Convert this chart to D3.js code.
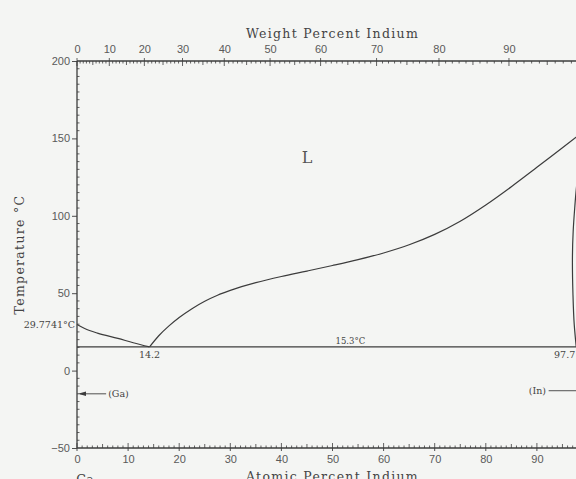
<!DOCTYPE html>
<html>
<head>
<meta charset="utf-8">
<script src="https://cdn.jsdelivr.net/npm/d3@7"></script>
<style>
  html, body { margin: 0; padding: 0; background: #f4f5f3; overflow: hidden; }
  svg { display: block; }
</style>
</head>
<body>
<svg id="chart" width="576" height="479"></svg>
<script>
// Ga–In phase diagram (temperature vs. composition)
const atomicTicks = [0, 10, 20, 30, 40, 50, 60, 70, 80, 90];
const weightTicks = [0, 10, 20, 30, 40, 50, 60, 70, 80, 90];
const tempTicks = [-50, 0, 50, 100, 150, 200];

// Liquidus on the Ga side: Ga melting point down to the eutectic
const gaLiquidus = [[0, 29.7741], [1.5, 27.2], [4, 24.2], [8, 20.8], [11, 18.0], [14.2, 15.3]];
// Liquidus on the In side: eutectic up to In melting point
const inLiquidus = [[14.2, 15.3], [16, 22.5], [18, 28.9], [20, 34.3], [22.5, 40], [25, 44.8],
  [27.5, 48.7], [30, 51.8], [35, 56.8], [40, 60.8], [45, 64.3], [50, 67.9], [55, 71.7],
  [60, 76], [65, 81.3], [70, 88], [75, 96.5], [80, 107], [85, 118.8], [90, 131.3],
  [95, 144], [100, 156.6]];
// Solidus of (In)
const inSolidus = [[97.7, 15.3], [97.3, 30], [97.05, 50], [96.95, 70], [97.1, 90], [97.4, 105],
  [97.7, 117], [98.4, 135], [99.2, 148], [100, 156.6]];
const eutectic = { T: 15.3, xLeft: 0, xEut: 14.2, xRight: 97.7 };
const gaMelt = 29.7741;

// Atomic masses for the weight-percent scale
const M_IN = 114.818, M_GA = 69.723;
const wtToAt = w => {
  if (w <= 0) return 0;
  if (w >= 100) return 100;
  const nIn = w / M_IN, nGa = (100 - w) / M_GA;
  return 100 * nIn / (nIn + nGa);
};

const svg = d3.select("#chart");
const x = d3.scaleLinear().domain([0, 100]).range([77, 588]);
const y = d3.scaleLinear().domain([-50, 200]).range([448, 61]);

const ink = "#3c3c3c";
const serif = "'DejaVu Serif', 'Liberation Serif', serif";
const sans = "'Liberation Sans', Arial, sans-serif";

// Axes frame lines
const gAxes = svg.append("g").attr("stroke", ink).attr("fill", "none");
gAxes.append("line").attr("x1", x(0)).attr("x2", x(100)).attr("y1", y(-50)).attr("y2", y(-50)).attr("stroke-width", 1.3);
gAxes.append("line").attr("x1", x(0)).attr("x2", x(100)).attr("y1", y(200)).attr("y2", y(200)).attr("stroke-width", 1.3);
gAxes.append("line").attr("x1", x(0)).attr("x2", x(0)).attr("y1", y(-50)).attr("y2", y(200)).attr("stroke-width", 1.3);

// Bottom axis (atomic percent)
const bottomAxis = d3.axisBottom(x).tickValues(atomicTicks).tickSize(0).tickFormat(d3.format("d"));
const gB = svg.append("g").attr("transform", `translate(0,${y(-50)})`).call(bottomAxis);
gB.select(".domain").remove();
gB.selectAll("text").attr("dy", "1.05em").attr("font-family", sans).attr("font-size", 11).attr("fill", "#5a5a5a");
const atMinor = d3.range(0, 101, 1);
svg.append("g").selectAll("line").data(atMinor).join("line")
  .attr("x1", d => x(d)).attr("x2", d => x(d))
  .attr("y1", y(-50))
  .attr("y2", d => y(-50) - (d % 10 === 0 ? 5 : d % 5 === 0 ? 4 : 2.5))
  .attr("stroke", ink).attr("stroke-width", 0.8);
svg.append("g").selectAll("line").data(atomicTicks).join("line")
  .attr("x1", d => x(d)).attr("x2", d => x(d))
  .attr("y1", y(-50)).attr("y2", y(-50) + 3)
  .attr("stroke", ink).attr("stroke-width", 0.9);

// Top axis (weight percent)
const topAxis = d3.axisTop(x).tickValues(weightTicks.map(wtToAt)).tickSize(0)
  .tickFormat((d, i) => weightTicks[i]);
const gT = svg.append("g").attr("transform", `translate(0,${y(200)})`).call(topAxis);
gT.select(".domain").remove();
gT.selectAll("text").attr("dy", "-0.45em").attr("font-family", sans).attr("font-size", 11).attr("fill", "#5a5a5a");
const wtMinor = d3.range(0, 101, 1);
svg.append("g").selectAll("line").data(wtMinor).join("line")
  .attr("x1", d => x(wtToAt(d))).attr("x2", d => x(wtToAt(d)))
  .attr("y1", d => y(200) - (d % 10 === 0 ? 3 : 0))
  .attr("y2", d => y(200) + (d % 10 === 0 ? 5 : d % 5 === 0 ? 4 : 2.5))
  .attr("stroke", ink).attr("stroke-width", 0.8);

// Left axis (temperature)
const leftAxis = d3.axisLeft(y).tickValues(tempTicks).tickSize(5).tickPadding(2).tickFormat(d3.format("d"));
const gL = svg.append("g").attr("transform", `translate(${x(0)},0)`).call(leftAxis);
gL.select(".domain").remove();
gL.selectAll("line").attr("stroke", ink).attr("stroke-width", 0.9);
gL.selectAll("text").attr("font-family", sans).attr("font-size", 11).attr("fill", "#5a5a5a");
const tMinor = d3.range(-50, 201, 5);
svg.append("g").selectAll("line").data(tMinor).join("line")
  .attr("x1", x(0)).attr("x2", d => x(0) + (d % 50 === 0 ? 0 : 2.5))
  .attr("y1", d => y(d)).attr("y2", d => y(d))
  .attr("stroke", ink).attr("stroke-width", 0.8);

// Axis titles
svg.append("text").attr("x", x(50)).attr("y", 38).attr("text-anchor", "middle")
  .attr("font-family", serif).attr("font-size", 12.5).attr("letter-spacing", 1.3).attr("fill", "#444")
  .text("Weight Percent Indium");
svg.append("text").attr("x", x(50)).attr("y", 481).attr("text-anchor", "middle")
  .attr("font-family", serif).attr("font-size", 12.5).attr("letter-spacing", 1.3).attr("fill", "#444")
  .text("Atomic Percent Indium");
svg.append("text").attr("x", x(0) + 8).attr("y", 484).attr("text-anchor", "middle")
  .attr("font-family", serif).attr("font-size", 12.5).attr("fill", "#444").text("Ga");
svg.append("text").attr("transform", `translate(24,${y(75)}) rotate(-90)`).attr("text-anchor", "middle")
  .attr("font-family", serif).attr("font-size", 12.5).attr("letter-spacing", 1.3).attr("fill", "#444")
  .text("Temperature °C");

// Phase boundaries
const line = d3.line().x(d => x(d[0])).y(d => y(d[1]));
const plot = svg.append("g").attr("fill", "none").attr("stroke", ink).attr("stroke-width", 1.2);
plot.append("path").attr("d", line.curve(d3.curveMonotoneX)(gaLiquidus));
plot.append("path").attr("d", line.curve(d3.curveMonotoneX)(inLiquidus));
plot.append("path").attr("d", line.curve(d3.curveMonotoneY)(inSolidus));
plot.append("line").attr("x1", x(eutectic.xLeft)).attr("x2", x(eutectic.xRight))
  .attr("y1", y(eutectic.T)).attr("y2", y(eutectic.T));

// Annotations
const ann = svg.append("g").attr("font-family", serif).attr("fill", "#444");
ann.append("text").attr("x", x(0) - 2).attr("y", y(gaMelt) + 3.5).attr("text-anchor", "end")
  .attr("font-size", 9.5).text("29.7741°C");
ann.append("text").attr("x", x(eutectic.xEut)).attr("y", y(eutectic.T) + 11).attr("text-anchor", "middle")
  .attr("font-size", 9.5).text(eutectic.xEut.toFixed(1));
ann.append("text").attr("x", x(eutectic.xRight) - 1).attr("y", y(eutectic.T) + 11).attr("text-anchor", "end")
  .attr("font-size", 9.5).text(eutectic.xRight.toFixed(1));
ann.append("text").attr("x", x(53.5)).attr("y", y(eutectic.T) - 2.5).attr("text-anchor", "middle")
  .attr("font-size", 8.5).text(eutectic.T.toFixed(1) + "°C");
ann.append("text").attr("x", x(45)).attr("y", y(134)).attr("text-anchor", "middle")
  .attr("font-size", 16).attr("fill", "#555").text("L");

// Terminal solid-solution markers with arrows
const markers = [{ label: "(Ga)", T: -15, side: "left" }, { label: "(In)", T: -13, side: "right" }];
markers.forEach(a => {
  const yy = y(a.T);
  if (a.side === "left") {
    svg.append("line").attr("x1", x(0) + 3).attr("x2", x(5.7)).attr("y1", yy).attr("y2", yy)
      .attr("stroke", ink).attr("stroke-width", 0.9);
    svg.append("path").attr("d", `M${x(0) + 1},${yy} l8,-2.2 l0,4.4 z`).attr("fill", ink);
    ann.append("text").attr("x", x(6.1)).attr("y", yy + 3.5).attr("font-size", 9.5).text(a.label);
  } else {
    svg.append("line").attr("x1", x(92.3)).attr("x2", x(100) - 3).attr("y1", yy).attr("y2", yy)
      .attr("stroke", ink).attr("stroke-width", 0.9);
    svg.append("path").attr("d", `M${x(100) - 1},${yy} l-8,-2.2 l0,4.4 z`).attr("fill", ink);
    ann.append("text").attr("x", x(91.8)).attr("y", yy + 3.5).attr("text-anchor", "end")
      .attr("font-size", 9.5).text(a.label);
  }
});
</script>
</body>
</html>
